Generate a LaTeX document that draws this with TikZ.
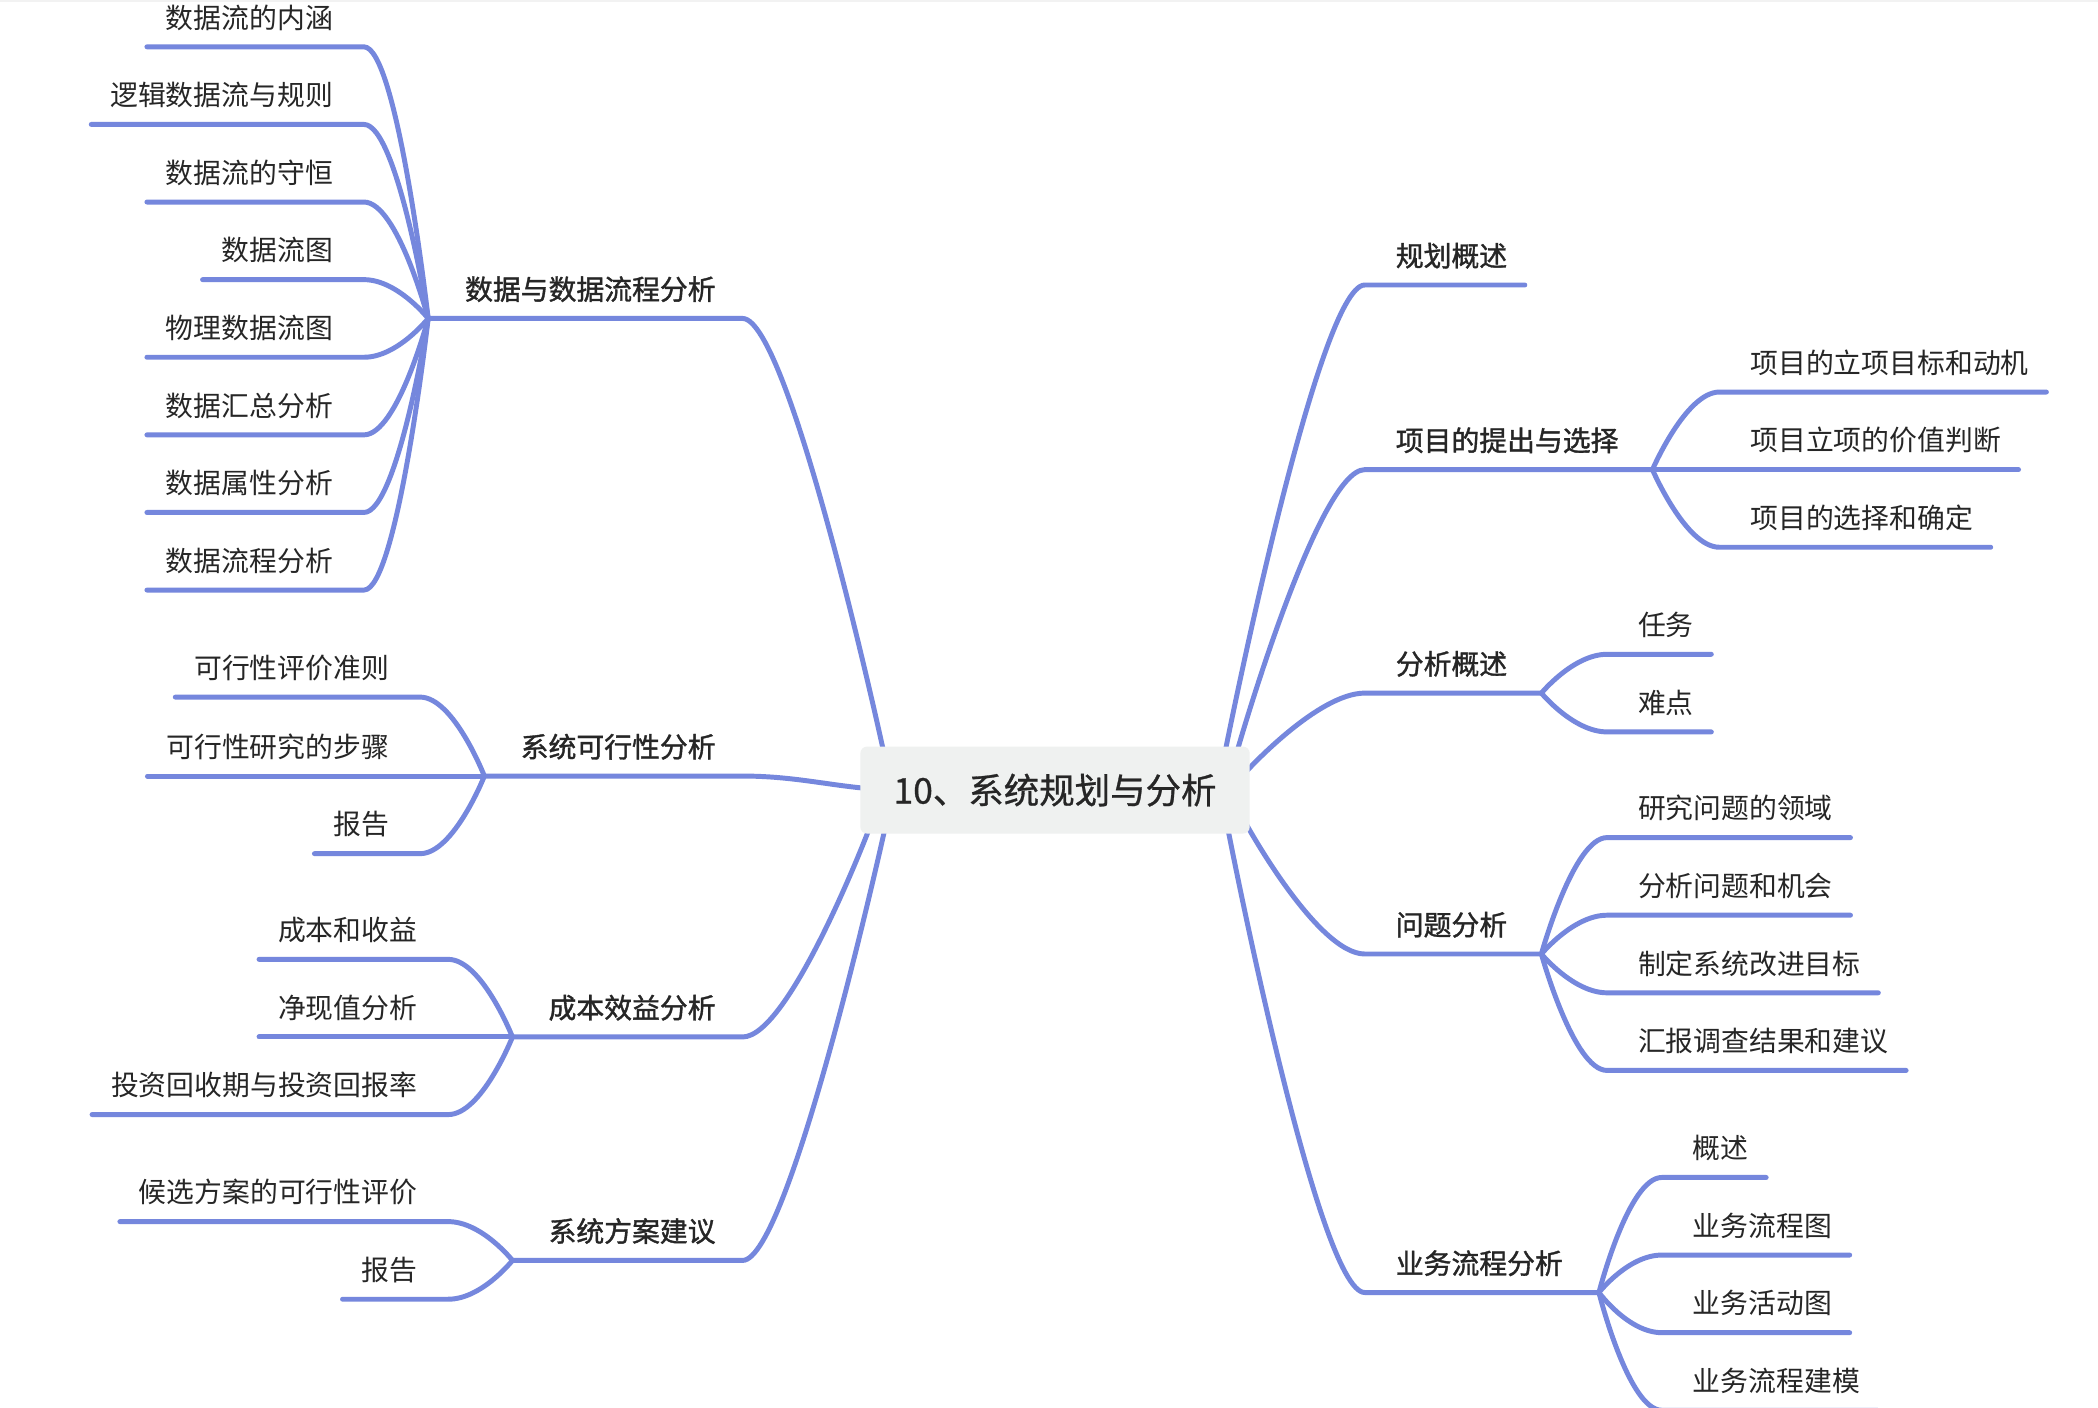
\documentclass[tikz,border=0pt]{standalone}
\usepackage{fontspec}
\usetikzlibrary{calc}
\newfontfamily\cjk{Noto Sans CJK SC}
\newfontfamily\cjkmed{Noto Sans CJK SC}[FakeBold=1.3]
\newfontfamily\cjkroot{Noto Sans CJK SC}[FakeBold=0.8]
\definecolor{linecol}{RGB}{117,135,221}
\definecolor{textcol}{RGB}{38,38,38}
\definecolor{rootfill}{RGB}{239,241,240}
\tikzset{
	branch/.style={draw=linecol, line width=3.7pt, line cap=round},
	leaf/.style={font=\cjk\fontsize{20.8}{24}\selectfont, text=textcol, inner sep=0pt},
	topic/.style={leaf, font=\cjkmed\fontsize{20.8}{24}\selectfont},
	rootbox/.style={fill=rootfill, rounded corners=5pt, inner sep=0pt, text=textcol,
		font=\cjkroot\fontsize{26.5}{30}\selectfont, minimum width=291pt, minimum height=65pt}
}

\begin{document}
\begin{tikzpicture}[x=1pt, y=-1pt]
	\useasboundingbox (0,0) rectangle (1568,1052);
	\clip (0,0) rectangle (1568,1052);
	\fill[white] (0,0) rectangle (1568,1052);
	\draw[gray!10, line width=1.5pt] (0,1) -- (1568,1);

	% where the branches leave the root
	\coordinate (rA) at (660,560);
	\coordinate (rB) at (645,589);
	\coordinate (rC) at (649,621);
	\coordinate (rD) at (661,621);
	\coordinate (rE) at (916,560);
	\coordinate (rF) at (925,560);
	\coordinate (rG) at (932,576);
	\coordinate (rH) at (932,617);
	\coordinate (rI) at (918,621);

	% left side
	\node[topic, anchor=base east] (dat) at (535,224) {数据与数据流程分析};
	\coordinate (dat0) at (555,238);
	\coordinate (dath) at (320,238);
	\draw[branch] (rA) .. controls (rA) and (590,238) .. (dat0) -- (dath);
	\foreach \n/\y/\txt in {1/35/数据流的内涵, 2/93/逻辑数据流与规则, 3/151/数据流的守恒,
		4/209/数据流图, 5/267/物理数据流图, 6/325/数据汇总分析, 7/383/数据属性分析, 8/441/数据流程分析}
	{
		\node[leaf, anchor=base east] (dat\n) at (249,\y-14) {\txt};
		\coordinate (dat\n-r) at (272,\y);
		\coordinate (dat\n-l) at ($(dat\n.west |- dat\n-r)+(-14,0)$);
		\draw[branch] (dat\n-l) -- (dat\n-r) .. controls (297,\y) and (dath) .. (dath);
	}

	\node[topic, anchor=base east] (fea) at (535,566) {系统可行性分析};
	\coordinate (fea0) at (555,580);
	\coordinate (feah) at (362,580);
	\draw[branch] (rB) .. controls (615,586) and (590,580) .. (fea0) -- (feah);
	\foreach \n/\y/\txt in {1/521/可行性评价准则, 2/580/可行性研究的步骤, 3/638/报告}
	{
		\node[leaf, anchor=base east] (fea\n) at (291,\y-14) {\txt};
		\coordinate (fea\n-r) at (314,\y);
		\coordinate (fea\n-l) at ($(fea\n.west |- fea\n-r)+(-14,0)$);
		\draw[branch] (fea\n-l) -- (fea\n-r) .. controls (339,\y) and (feah) .. (feah);
	}

	\node[topic, anchor=base east] (cst) at (535,761) {成本效益分析};
	\coordinate (cst0) at (555,775);
	\coordinate (csth) at (383,775);
	\draw[branch] (rC) .. controls (rC) and (590,775) .. (cst0) -- (csth);
	\foreach \n/\y/\txt in {1/717/成本和收益, 2/775/净现值分析, 3/833/投资回收期与投资回报率}
	{
		\node[leaf, anchor=base east] (cst\n) at (312,\y-14) {\txt};
		\coordinate (cst\n-r) at (335,\y);
		\coordinate (cst\n-l) at ($(cst\n.west |- cst\n-r)+(-14,0)$);
		\draw[branch] (cst\n-l) -- (cst\n-r) .. controls (360,\y) and (csth) .. (csth);
	}

	\node[topic, anchor=base east] (prp) at (535,928) {系统方案建议};
	\coordinate (prp0) at (555,942);
	\coordinate (prph) at (383,942);
	\draw[branch] (rD) .. controls (rD) and (590,942) .. (prp0) -- (prph);
	\foreach \n/\y/\txt in {1/913/候选方案的可行性评价, 2/971/报告}
	{
		\node[leaf, anchor=base east] (prp\n) at (312,\y-14) {\txt};
		\coordinate (prp\n-r) at (335,\y);
		\coordinate (prp\n-l) at ($(prp\n.west |- prp\n-r)+(-14,0)$);
		\draw[branch] (prp\n-l) -- (prp\n-r) .. controls (360,\y) and (prph) .. (prph);
	}

	% right side
	\node[topic, anchor=base west] (plan) at (1043,199) {规划概述};
	\coordinate (plan0) at (1020,213);
	\draw[branch] (rE) .. controls (rE) and (985,213) .. (plan0) -- ($(plan.east |- plan0)+(13,0)$);

	\node[topic, anchor=base west] (proj) at (1043,337) {项目的提出与选择};
	\coordinate (proj0) at (1020,351);
	\coordinate (projh) at (1235,351);
	\draw[branch] (rF) .. controls (rF) and (985,351) .. (proj0) -- (projh);
	\foreach \n/\y/\txt in {1/293/项目的立项目标和动机, 2/351/项目立项的价值判断, 3/409/项目的选择和确定}
	{
		\node[leaf, anchor=base west] (proj\n) at (1308,\y-14) {\txt};
		\coordinate (proj\n-l) at (1285,\y);
		\coordinate (proj\n-r) at ($(proj\n.east |- proj\n-l)+(13,0)$);
		\draw[branch] (projh) .. controls (projh) and (1260,\y) .. (proj\n-l) -- (proj\n-r);
	}

	\node[topic, anchor=base west] (ana) at (1043,504) {分析概述};
	\coordinate (ana0) at (1020,518);
	\coordinate (anah) at (1152,518);
	\draw[branch] (rG) .. controls (rG) and (985,518) .. (ana0) -- (anah);
	\foreach \n/\y/\txt in {1/489/任务, 2/547/难点}
	{
		\node[leaf, anchor=base west] (ana\n) at (1224,\y-14) {\txt};
		\coordinate (ana\n-l) at (1201,\y);
		\coordinate (ana\n-r) at ($(ana\n.east |- ana\n-l)+(13,0)$);
		\draw[branch] (anah) .. controls (anah) and (1176,\y) .. (ana\n-l) -- (ana\n-r);
	}

	\node[topic, anchor=base west] (prob) at (1043,699) {问题分析};
	\coordinate (prob0) at (1020,713);
	\coordinate (probh) at (1152,713);
	\draw[branch] (rH) .. controls (rH) and (985,713) .. (prob0) -- (probh);
	\foreach \n/\y/\txt in {1/626/研究问题的领域, 2/684/分析问题和机会, 3/742/制定系统改进目标, 4/800/汇报调查结果和建议}
	{
		\node[leaf, anchor=base west] (prob\n) at (1224,\y-14) {\txt};
		\coordinate (prob\n-l) at (1201,\y);
		\coordinate (prob\n-r) at ($(prob\n.east |- prob\n-l)+(13,0)$);
		\draw[branch] (probh) .. controls (probh) and (1176,\y) .. (prob\n-l) -- (prob\n-r);
	}

	\node[topic, anchor=base west] (biz) at (1043,952) {业务流程分析};
	\coordinate (biz0) at (1020,966);
	\coordinate (bizh) at (1195,966);
	\draw[branch] (rI) .. controls (rI) and (985,966) .. (biz0) -- (bizh);
	\foreach \n/\y/\txt in {1/880/概述, 2/938/业务流程图, 3/996/业务活动图, 4/1054/业务流程建模}
	{
		\node[leaf, anchor=base west] (biz\n) at (1265,\y-14) {\txt};
		\coordinate (biz\n-l) at (1242,\y);
		\coordinate (biz\n-r) at ($(biz\n.east |- biz\n-l)+(13,0)$);
		\draw[branch] (bizh) .. controls (bizh) and (1217,\y) .. (biz\n-l) -- (biz\n-r);
	}

	% root on top of the branch ends
	\node[rootbox] (root) at (788.5,590.5) {10、系统规划与分析};
\end{tikzpicture}
\end{document}
